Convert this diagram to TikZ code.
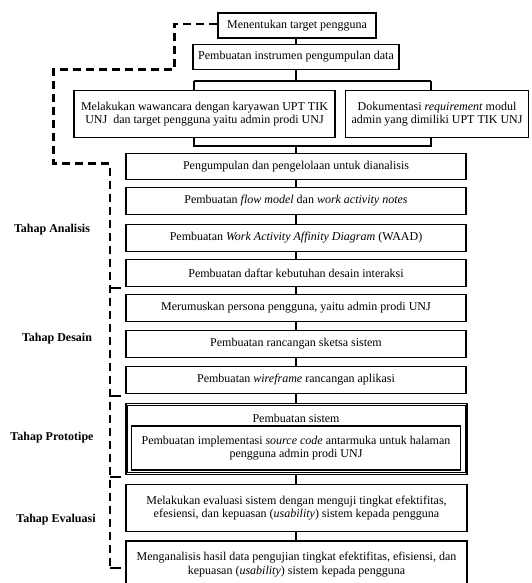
\documentclass[tikz,border=0pt]{standalone}
\usepackage{fontspec}
\setmainfont{Liberation Serif}
\begin{document}
\begin{tikzpicture}[x=1pt,y=-1pt,
  box/.style={draw,line width=1.3pt,minimum width=340pt,minimum height=26.5pt,inner sep=1pt,align=center,font=\fontsize{12}{13.5}\selectfont},
  lbl/.style={font=\fontsize{12}{14}\selectfont\bfseries},
  conn/.style={line width=1.3pt},
  dsh/.style={line width=2.4pt,dash pattern=on 8pt off 5pt},
  tick/.style={line width=2.4pt}]
\useasboundingbox (0,0) rectangle (532,583);
% top part
\node[box,minimum width=158pt,minimum height=25pt] (top) at (297,25.5) {Menentukan target pengguna};
\node[box,minimum width=206pt,minimum height=25pt] (ins) at (296,57) {Pembuatan instrumen pengumpulan data};
\node[box,minimum width=261pt,minimum height=47pt] (waw) at (204.5,114) {Melakukan wawancara dengan karyawan UPT TIK\\UNJ\ \ dan target pengguna yaitu admin prodi UNJ};
\node[box,minimum width=183pt,minimum height=47pt] (dok) at (437,114) {Dokumentasi \textit{requirement} modul\\admin yang dimiliki UPT TIK UNJ};
% column
\node[box] (p1) at (296,166.5) {Pengumpulan dan pengelolaan untuk dianalisis};
\node[box] (p2) at (296,201) {Pembuatan \textit{flow model} dan \textit{work activity notes}};
\node[box] (p3) at (296,238) {Pembuatan \textit{Work Activity Affinity Diagram} (WAAD)};
\node[box] (p4) at (296,273) {Pembuatan daftar kebutuhan desain interaksi};
\node[box] (d1) at (296,308) {Merumuskan persona pengguna, yaitu admin prodi UNJ};
\node[box] (d2) at (296,344) {Pembuatan rancangan sketsa sistem};
\node[box] (d3) at (296,380) {Pembuatan \textit{wireframe} rancangan aplikasi};
\node[draw,line width=1.3pt,minimum width=341pt,minimum height=70.5pt,inner sep=0pt] (pr) at (296.5,439) {};
\draw[line width=0.6pt] ([xshift=2.2pt,yshift=-2.2pt]pr.north west) rectangle ([xshift=-2.2pt,yshift=2.2pt]pr.south east);
\node[font=\fontsize{12}{13.5}\selectfont] (prt) at (296,418) {Pembuatan sistem};
\node[box,line width=1.9pt,minimum width=329pt,minimum height=44pt] (pri) at (296,448) {Pembuatan implementasi \textit{source code} antarmuka untuk halaman\\pengguna admin prodi UNJ};
\node[box,minimum width=341pt,minimum height=46.5pt] (e1) at (296.5,508) {Melakukan evaluasi sistem dengan menguji tingkat efektifitas,\\efesiensi, dan kepuasan (\textit{usability}) sistem kepada pengguna};
\node[box,minimum width=341pt,minimum height=47pt] (e2) at (296.5,564.5) {Menganalisis hasil data pengujian tingkat efektifitas, efisiensi, dan\\kepuasan (\textit{usability}) sistem kepada pengguna};
% labels
\node[lbl] (la) at (52,230) {Tahap Analisis};
\node[lbl] (ld) at (57,339) {Tahap Desain};
\node[lbl] (lp) at (52,438) {Tahap Prototipe};
\node[lbl] (le) at (56,520) {Tahap Evaluasi};
% connectors
\coordinate (b1) at (296,81);
\coordinate (bl) at (194,81);
\coordinate (br) at (431,81);
\coordinate (j1) at (296,146);
\coordinate (jl) at (194,146);
\coordinate (jr) at (431,146);
\draw[conn] (top.south -| ins.north) -- (ins.north);
\draw[conn] (ins.south) -- (b1);
\draw[conn] (bl) -- (br);
\draw[conn] (bl) -- (bl |- waw.north);
\draw[conn] (br) -- (br |- dok.north);
\draw[conn] (jl |- waw.south) -- (jl) -- (jr) -- (jr |- dok.south);
\draw[conn] (j1) -- (p1.north);
\draw[conn] (p1.south) -- (p2.north);
\draw[conn] (p2.south) -- (p3.north);
\draw[conn] (p3.south) -- (p4.north);
\draw[conn] (p4.south) -- (d1.north);
\draw[conn] (d1.south) -- (d2.north);
\draw[conn] (d2.south) -- (d3.north);
\draw[conn] (d3.south) -- (d3.south |- pr.north);
\draw[conn] (pr.south -| p1.south) -- (p1.south |- e1.north);
\draw[conn] (e1.south -| p1.south) -- (p1.south |- e2.north);
% dashed bracket
\coordinate (k1) at (174.5,24);
\coordinate (k2) at (174.5,69.5);
\coordinate (k3) at (53.5,69.5);
\coordinate (k4) at (53.5,163.5);
\coordinate (k5) at (110,163.5);
\coordinate (k6) at (110,568);
\coordinate (k7) at (121,568);
\draw[dsh] (top.west |- k1) -- (k1) -- (k2) -- (k3) -- (k4) -- (k5) -- (k6);
\draw[tick] (k6) -- (k7);
\coordinate (t1) at (110,288);
\coordinate (t2) at (110,396);
\coordinate (t3) at (110,477);
\draw[tick] (t1) -- ++(11,0);
\draw[tick] (t2) -- ++(11,0);
\draw[tick] (t3) -- ++(11,0);
\end{tikzpicture}
\end{document}
